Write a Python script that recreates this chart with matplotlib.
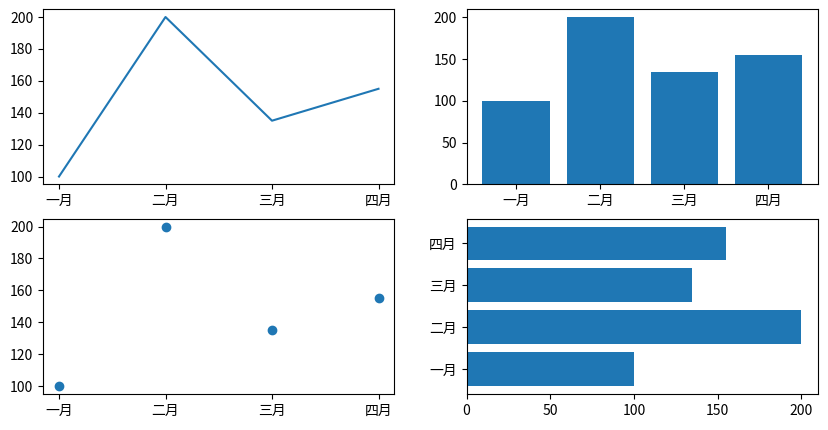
import matplotlib
matplotlib.use("Agg")
import matplotlib.pyplot as plt

plt.rcParams['font.family'] = ['Noto Sans CJK SC', 'DejaVu Sans']
plt.rcParams['axes.unicode_minus'] = False

months = ['一月', '二月', '三月', '四月']
values = [100, 200, 135, 155]

fig, axes = plt.subplots(2, 2, figsize=(8.29, 4.30), dpi=100)
fig.subplots_adjust(left=0.0519, right=0.9867, top=0.979, bottom=0.0837,
                    wspace=0.205, hspace=0.194)

axes[0, 0].plot(months, values)
axes[0, 1].bar(months, values)
axes[1, 0].scatter(months, values)
axes[1, 1].barh(months, values)

fig.savefig("out.png", dpi=100)
